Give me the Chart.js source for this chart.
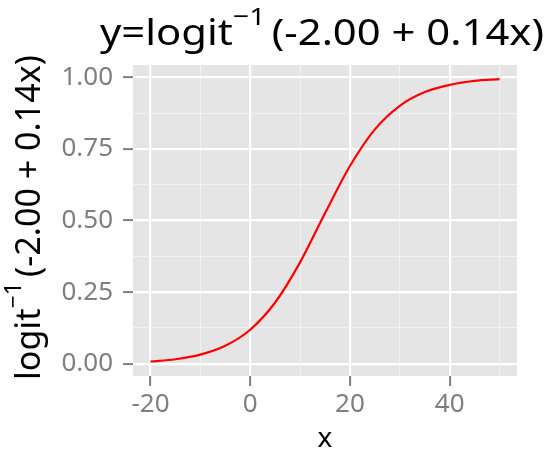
<!DOCTYPE html>
<html>
<head>
<meta charset="utf-8">
<script src="https://cdn.jsdelivr.net/npm/chart.js@4"></script>
<style>html,body{margin:0;padding:0;background:#fff}</style>
</head>
<body>
<canvas id="plot" width="546" height="450"></canvas>
<script>
// curve values
const xValues = [-20, -15, -10, -5, 0, 5, 10, 15, 20, 25, 30, 35, 40, 45, 50];
const yValues = [0.008, 0.016, 0.032, 0.063, 0.119, 0.214, 0.354, 0.525, 0.690, 0.818, 0.900, 0.948, 0.973, 0.987, 0.993];

// grid lines (major + minor) and labelled ticks
const xGrid = [-20, -10, 0, 10, 20, 30, 40, 50];
const xLabels = [-20, 0, 20, 40];
const yGrid = [0, 0.125, 0.25, 0.375, 0.5, 0.625, 0.75, 0.875, 1];
const yLabels = [0, 0.25, 0.5, 0.75, 1];

const titleParts = [{ t: 'y=logit' }, { t: '\u22121', sup: true }, { t: '(-2.00 + 0.14x)' }];
const yTitleParts = [{ t: 'logit' }, { t: '\u22121', sup: true }, { t: '(-2.00 + 0.14x)' }];
const xTitle = 'x';

const FONT = '"Noto Sans", sans-serif';

// text with a superscript, centered on cx, stretched to a given width
function drawMath(ctx, parts, cx, base, size, width) {
  const supSize = size * 0.68;
  const gap = size * 0.15; // a little room after the superscript
  let w = 0;
  parts.forEach(p => {
    ctx.font = (p.sup ? supSize : size) + 'px ' + FONT;
    p.w = ctx.measureText(p.t).width + (p.sup ? gap : 0);
    w += p.w;
  });
  ctx.save();
  ctx.translate(cx - width / 2, base);
  ctx.scale(width / w, 1);
  ctx.textAlign = 'left';
  ctx.textBaseline = 'alphabetic';
  let x = 0;
  parts.forEach(p => {
    ctx.font = (p.sup ? supSize : size) + 'px ' + FONT;
    ctx.fillText(p.t, x, p.sup ? -size * 0.55 : 0);
    x += p.w;
  });
  ctx.restore();
}

// grey panel behind the grid
const panelBg = {
  id: 'panelBg',
  beforeDraw(chart) {
    const a = chart.chartArea, c = chart.ctx;
    c.save();
    c.fillStyle = '#E5E5E5';
    c.fillRect(a.left, a.top, a.right - a.left, a.bottom - a.top);
    c.restore();
  }
};

// titles (plot + axes)
const titles = {
  id: 'titles',
  afterDraw(chart) {
    const a = chart.chartArea, c = chart.ctx;
    const mid = (a.left + a.right) / 2;
    c.save();
    c.fillStyle = '#000';
    drawMath(c, titleParts, 322, 45, 36, 444);
    c.font = '28px ' + FONT;
    c.textAlign = 'center';
    c.textBaseline = 'alphabetic';
    c.fillText(xTitle, mid, 447);
    c.translate(40, 217.5);
    c.rotate(-Math.PI / 2);
    drawMath(c, yTitleParts, 0, 0, 34, 325);
    c.restore();
  }
};

const isMajor = (list, v) => list.some(m => Math.abs(m - v) < 1e-9);

new Chart(document.getElementById('plot'), {
  type: 'line',
  data: {
    datasets: [{
      data: xValues.map((x, i) => ({ x: x, y: yValues[i] })),
      borderColor: '#FF0000',
      borderWidth: 2.2,
      pointRadius: 0,
      cubicInterpolationMode: 'monotone',
      fill: false
    }]
  },
  options: {
    responsive: false,
    animation: false,
    layout: { padding: { top: 65, right: 29, left: 0, bottom: 0 } },
    plugins: { legend: { display: false }, tooltip: { enabled: false } },
    scales: {
      x: {
        type: 'linear',
        min: -23.5,
        max: 53.5,
        afterBuildTicks: s => { s.ticks = xGrid.map(v => ({ value: v })); },
        afterFit: s => { s.height = 74; },
        border: { display: false },
        grid: {
          color: c => isMajor(xLabels, c.tick.value) ? '#FFFFFF' : '#F2F2F2',
          lineWidth: c => isMajor(xLabels, c.tick.value) ? 2.2 : 1,
          tickColor: c => isMajor(xLabels, c.tick.value) ? '#7F7F7F' : 'rgba(0,0,0,0)',
          tickWidth: 2,
          tickLength: 10
        },
        ticks: {
          autoSkip: false,
          maxRotation: 0,
          padding: 3,
          color: '#7F7F7F',
          font: { family: FONT, size: 26 },
          callback: v => isMajor(xLabels, v) ? String(v) : ''
        }
      },
      y: {
        min: -0.0425,
        max: 1.0425,
        afterBuildTicks: s => { s.ticks = yGrid.map(v => ({ value: v })); },
        afterFit: s => { s.width = 133; },
        border: { display: false },
        grid: {
          color: c => isMajor(yLabels, c.tick.value) ? '#FFFFFF' : '#F2F2F2',
          lineWidth: c => isMajor(yLabels, c.tick.value) ? 2.2 : 1,
          tickColor: c => isMajor(yLabels, c.tick.value) ? '#7F7F7F' : 'rgba(0,0,0,0)',
          tickWidth: 2,
          tickLength: 10
        },
        ticks: {
          autoSkip: false,
          padding: 10,
          color: '#7F7F7F',
          font: { family: FONT, size: 26 },
          callback: v => isMajor(yLabels, v) ? v.toFixed(2) : ''
        }
      }
    }
  },
  plugins: [panelBg, titles]
});
</script>
</body>
</html>
